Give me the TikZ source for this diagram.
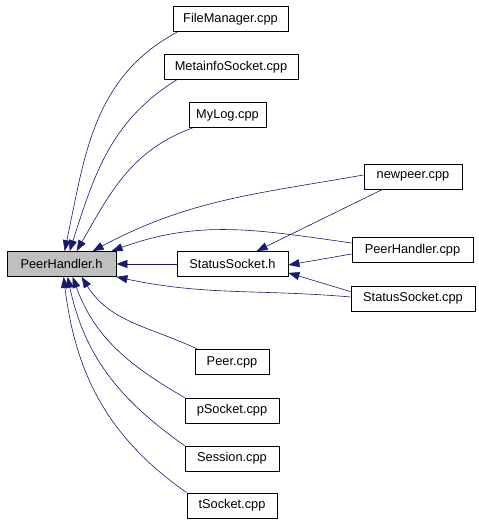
\documentclass[tikz,border=0pt]{standalone}
\usepackage{fontspec}
\setmainfont{Liberation Sans}
\usetikzlibrary{calc,arrows.meta,positioning}
\definecolor{edgeblue}{HTML}{191970}
\definecolor{mainfill}{HTML}{BFBFBF}

\begin{document}
\begin{tikzpicture}[
    x=1pt, y=1pt,
    >={Triangle[length=11pt,width=8pt]},
    font=\fontsize{12.8}{15}\selectfont,
    file/.style={rectangle, draw=black, line width=0.8pt, inner sep=0pt,
                 minimum height=25pt},
    mainfile/.style={file, fill=mainfill},
    dep/.style={->, draw=edgeblue, line width=0.6pt},
]
\useasboundingbox (0,0) rectangle (479,522);

% ── the header and its direct includers ──
\node[mainfile, minimum width=109pt] (ph)     at (61.5, 258)  {PeerHandler.h};
\node[file, minimum width=111pt]     (ssh)    at (232.5, 258) {StatusSocket.h};

\node[file, minimum width=115pt] (fm)      at (230.5, 503) {FileManager.cpp};
\node[file, minimum width=134pt] (mis)     at (231, 455)   {MetainfoSocket.cpp};
\node[file, minimum width=77pt]  (mylog)   at (227.5, 407) {MyLog.cpp};
\node[file, minimum width=98pt]  (newpeer) at (413, 345.5) {newpeer.cpp};
\node[file, minimum width=121pt] (phcpp)   at (412.5, 272) {PeerHandler.cpp};
\node[file, minimum width=124pt] (sscpp)   at (413, 223.5) {StatusSocket.cpp};
\node[file, minimum width=74pt]  (peer)    at (232, 160)   {Peer.cpp};
\node[file, minimum width=94pt]  (psock)   at (232, 111.5) {pSocket.cpp};
\node[file, minimum width=94pt]  (sess)    at (232, 63.5)  {Session.cpp};
\node[file, minimum width=90pt]  (tsock)   at (232, 16.5)  {tSocket.cpp};

% ── upper fan into PeerHandler.h ──
\draw[dep] ($(fm.south west)+(5,0)$)    to[out=208, in=78] ($(ph.north west)+(58,0)$);
\draw[dep] ($(mis.south west)+(13,0)$)  to[out=212, in=72] ($(ph.north west)+(63,0)$);
\draw[dep] ($(mylog.south west)+(4,0)$) to[out=200, in=60] ($(ph.north west)+(70,0)$);
\draw[dep] ($(newpeer.west)+(0,1.5)$)   to[out=190, in=28] ($(ph.north west)+(86,0)$);
\draw[dep] ($(phcpp.west)+(0,7)$)       to[out=172, in=20] ($(ph.north west)+(105,0)$);
\draw[dep] (ssh.west) -- (ph.east);
\draw[dep] ($(sscpp.west)+(0,1.5)$)     to[out=175, in=-12] (ph.south east);

% ── includers of StatusSocket.h ──
\draw[dep] ($(newpeer.south west)+(19,0)$) -- ($(ssh.north west)+(80,0)$);
\draw[dep] ($(phcpp.west)+(0,-4)$)         -- ($(ssh.east)+(0,-1)$);
\draw[dep] ($(sscpp.north west)+(0,-6)$)   -- ($(ssh.south east)+(0,4)$);

% ── lower fan into PeerHandler.h ──
\draw[dep] ($(peer.north west)+(3,0)$) to[out=155, in=-58] ($(ph.south west)+(75,0)$);
\draw[dep] (psock.north west)          to[out=150, in=-70] ($(ph.south west)+(66,0)$);
\draw[dep] (sess.north west)           to[out=145, in=-78] ($(ph.south west)+(61,0)$);
\draw[dep] (tsock.north west)          to[out=145, in=-83] ($(ph.south west)+(57,0)$);

\end{tikzpicture}
\end{document}
